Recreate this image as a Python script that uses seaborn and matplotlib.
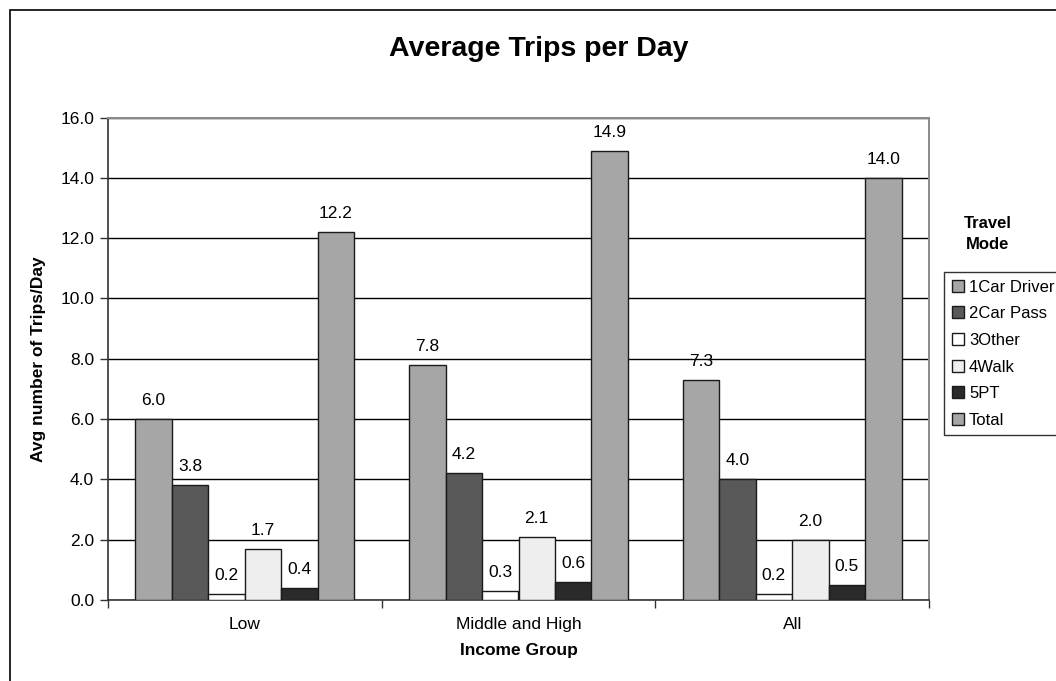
import matplotlib
matplotlib.use("Agg")
import matplotlib.pyplot as plt
import seaborn as sns
import pandas as pd
from matplotlib.patches import Rectangle

# Data
groups = ["Low", "Middle and High", "All"]
modes = ["1Car Driver", "2Car Pass", "3Other", "4Walk", "5PT", "Total"]
low_vals = [6.0, 3.8, 0.2, 1.7, 0.4, 12.2]
midhigh_vals = [7.8, 4.2, 0.3, 2.1, 0.6, 14.9]
all_vals = [7.3, 4.0, 0.2, 2.0, 0.5, 14.0]
y_ticks = [0, 2, 4, 6, 8, 10, 12, 14, 16]

mode_colors = ["#A6A6A6", "#595959", "#FFFFFF", "#EEEEEE", "#2A2A2A", "#A6A6A6"]

rows = []
for g, vals in zip(groups, [low_vals, midhigh_vals, all_vals]):
    for m, v in zip(modes, vals):
        rows.append({"group": g, "mode": m, "value": v})
df = pd.DataFrame(rows)

sns.set_theme(style="white")
plt.rcParams["font.family"] = ["Liberation Sans", "DejaVu Sans"]
plt.rcParams["text.color"] = "black"
plt.rcParams["axes.labelcolor"] = "black"
plt.rcParams["xtick.color"] = "black"
plt.rcParams["ytick.color"] = "black"

fig = plt.figure(figsize=(10.56, 6.81), dpi=100)
ax = fig.add_axes([108 / 1056, 1 - 600 / 681, (929 - 108) / 1056, (600 - 117.5) / 681])

sns.barplot(data=df, x="group", y="value", hue="mode", order=groups,
            hue_order=modes, palette=mode_colors, saturation=1,
            edgecolor="#1a1a1a", linewidth=1.0, errorbar=None, ax=ax,
            width=0.8, zorder=3)

# Value labels above bars
for container in ax.containers:
    for bar in container:
        h = bar.get_height()
        ax.annotate(f"{h:.1f}", (bar.get_x() + bar.get_width() / 2, h),
                    xytext=(0, 8), textcoords="offset points",
                    ha="center", va="bottom", fontsize=12.5, color="black")

ax.set_ylim(0, 16)
ax.set_xlim(-0.5, 2.5)
ax.set_yticks(y_ticks)
ax.set_yticklabels([f"{t:.1f}" for t in y_ticks], fontsize=12.5)
ax.yaxis.grid(True, color="black", linewidth=1.0, zorder=0)
ax.set_axisbelow(True)

# Category boundary ticks on the x axis
ax.set_xticks([0, 1, 2])
ax.set_xticklabels(groups, fontsize=12.5)
ax.set_xticks([-0.5, 0.5, 1.5, 2.5], minor=True)
ax.tick_params(axis="x", which="major", length=0, pad=12)
ax.tick_params(axis="x", which="minor", length=6, width=1, color="#333333",
               direction="out", bottom=True)
ax.tick_params(axis="y", length=6, width=1, color="#333333", direction="out",
               left=True, pad=4)

for side in ["left", "bottom"]:
    ax.spines[side].set_color("#333333")
    ax.spines[side].set_linewidth(1.2)
for side in ["top", "right"]:
    ax.spines[side].set_color("#8a8a8a")
    ax.spines[side].set_linewidth(1.4)

ax.set_xlabel("Income Group", fontsize=12.5, fontweight="bold", labelpad=8)
ax.set_ylabel("Avg number of Trips/Day", fontsize=12.5, fontweight="bold", labelpad=10)

fig.text(539 / 1056, 1 - 49 / 681, "Average Trips per Day", ha="center", va="center",
         fontsize=20.5, fontweight="bold")

# Legend outside the plot area
handles, labels = ax.get_legend_handles_labels()
ax.get_legend().remove()
leg = fig.legend(handles, labels, loc="upper left",
                 bbox_to_anchor=(944 / 1056, 1 - 272 / 681),
                 fontsize=12, frameon=True, fancybox=False,
                 edgecolor="black", handlelength=0.75, handleheight=0.75,
                 handletextpad=0.3, labelspacing=0.7, borderpad=0.45,
                 borderaxespad=0)
leg.get_frame().set_linewidth(1.0)
fig.text(988 / 1056, 1 - 234 / 681, "Travel\nMode", ha="center", va="center",
         fontsize=12, fontweight="bold", linespacing=1.5)

# Outer chart frame
fig.patches.append(Rectangle((10 / 1056, -0.05), 1.1, 1 - 10.5 / 681 + 0.05,
                             transform=fig.transFigure, fill=False,
                             edgecolor="black", linewidth=1.2))

fig.savefig("out.png", dpi=100)
